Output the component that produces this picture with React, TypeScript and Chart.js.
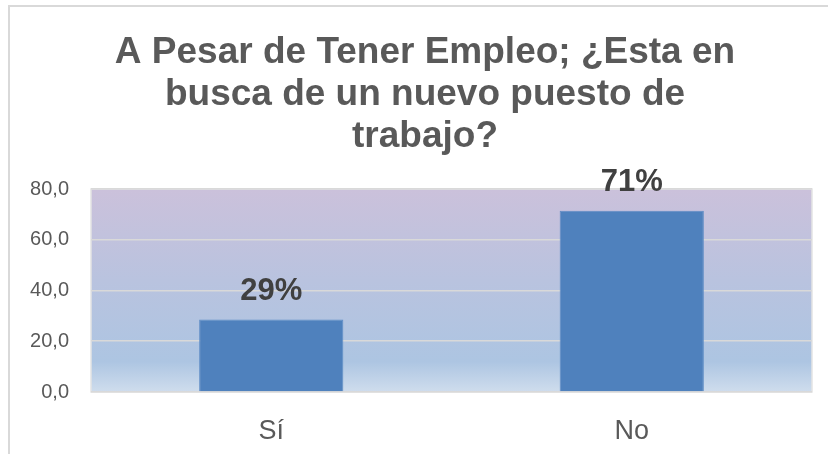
import React, { useEffect, useRef } from "react";
import { Chart, registerables } from "chart.js";

Chart.register(...registerables);

const titleLines = ["A Pesar de Tener Empleo; ¿Esta en", "busca de un nuevo puesto de", "trabajo?"];
const categories = ["Sí", "No"];
const values = [28.6, 71.4];
const yTicks = [0, 20, 40, 60, 80];

const FONT = "'Liberation Sans', Arial, sans-serif";
const W = 828;
const H = 454;

const bgPlugin = {
  id: "plotBg",
  beforeDraw(chart: any) {
    const { ctx, chartArea } = chart;
    const { left, top, right, bottom } = chartArea;
    const g = ctx.createLinearGradient(0, top, 0, bottom);
    g.addColorStop(0, "#cbc1db");
    g.addColorStop(0.45, "#b9c3df");
    g.addColorStop(0.85, "#adc5e2");
    g.addColorStop(1, "#cfdded");
    ctx.save();
    ctx.fillStyle = g;
    ctx.fillRect(left, top, right - left, bottom - top);
    ctx.strokeStyle = "#e4e4e4";
    ctx.lineWidth = 1.5;
    ctx.strokeRect(left, top, right - left, bottom - top);
    ctx.restore();
  },
};

const labelPlugin = {
  id: "valueLabels",
  afterDatasetsDraw(chart: any) {
    const { ctx } = chart;
    const meta = chart.getDatasetMeta(0);
    ctx.save();
    ctx.font = `bold 31px ${FONT}`;
    ctx.fillStyle = "#404040";
    ctx.textAlign = "center";
    ctx.textBaseline = "middle";
    meta.data.forEach((bar: any, i: number) => {
      const v = values[i];
      ctx.fillText(`${Math.round(v)}%`, bar.x, bar.y - 28);
    });
    ctx.restore();
  },
};

export default function App() {
  const ref = useRef<HTMLCanvasElement | null>(null);
  useEffect(() => {
    if (!ref.current) return;
    const chart = new Chart(ref.current, {
      type: "bar",
      data: {
        labels: categories,
        datasets: [
          {
            data: values,
            backgroundColor: "#4f81bd",
            borderColor: "#5d8cc5",
            borderWidth: 1,
            categoryPercentage: 0.8,
            barPercentage: 0.5,
            yAxisID: "y",
          },
        ],
      },
      options: {
        animation: false,
        responsive: false,
        devicePixelRatio: 1,
        layout: { padding: { left: 22, right: 0, top: 0, bottom: 10 } },
        plugins: {
          legend: { display: false },
          tooltip: { enabled: false },
          title: {
            display: true,
            text: titleLines,
            color: "#595959",
            font: { family: FONT, size: 37, weight: "bold", lineHeight: 1.135 },
            padding: { top: 32, bottom: 31 },
          },
        },
        scales: {
          x: {
            afterFit(scale: any) {
              scale.height = 52;
            },
            grid: { display: false, drawTicks: false },
            border: { display: false },
            ticks: {
              color: "#595959",
              font: { family: FONT, size: 27 },
              padding: 23,
            },
          },
          y: {
            position: "left",
            min: 0,
            max: 80,
            afterFit(scale: any) {
              scale.width = 69;
            },
            afterBuildTicks(scale: any) {
              scale.ticks = yTicks.map((v) => ({ value: v }));
            },
            border: { display: false },
            grid: { color: "#d9d9d9", lineWidth: 1.5, drawTicks: false },
            ticks: {
              color: "#595959",
              font: { family: FONT, size: 20 },
              padding: 22,
              callback: (v: any) => Number(v).toFixed(1).replace(".", ","),
            },
          },
          yRight: {
            position: "right",
            min: 0,
            max: 80,
            afterFit(scale: any) {
              scale.width = 16;
            },
            border: { display: false },
            grid: { display: false, drawTicks: false },
            ticks: { display: false },
          },
        },
      },
      plugins: [bgPlugin, labelPlugin],
    });
    return () => chart.destroy();
  }, []);

  return (
    <div style={{ position: "absolute", left: 0, top: 0, width: W, height: H, background: "#fff" }}>
      <div
        style={{
          position: "absolute",
          left: 8,
          top: 5,
          right: 0,
          bottom: 0,
          borderTop: "2px solid #d9d9d9",
          borderLeft: "2px solid #d9d9d9",
        }}
      />
      <canvas
        ref={ref}
        width={W}
        height={H}
        style={{ position: "absolute", left: 0, top: 0, width: W, height: H }}
      />
    </div>
  );
}
